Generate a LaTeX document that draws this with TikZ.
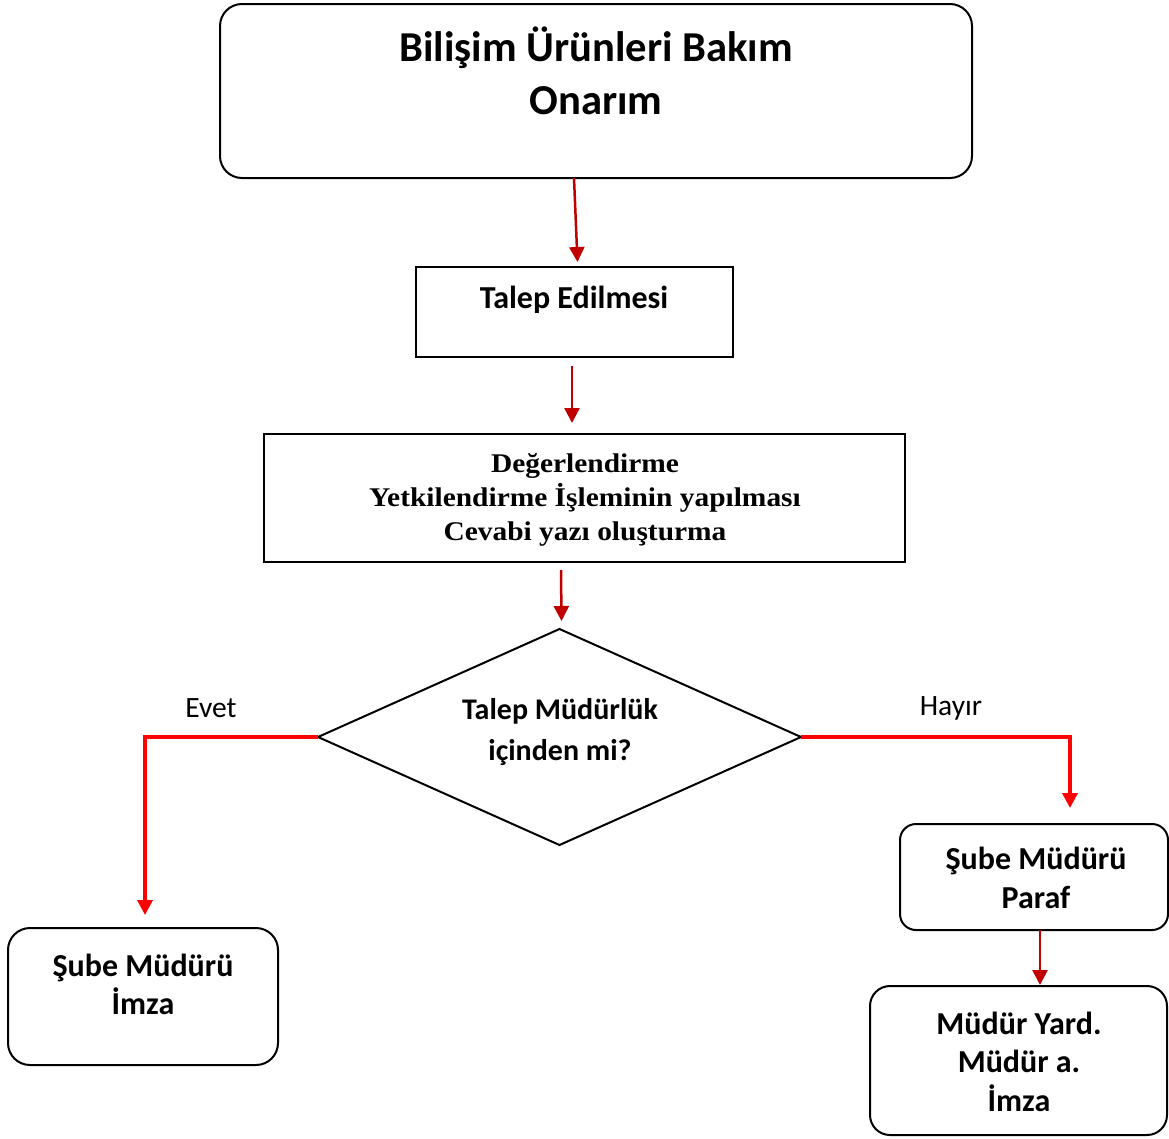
\documentclass[tikz,border=0pt]{standalone}
\usepackage{fontspec}
\setmainfont{Carlito}
\newfontfamily\tnr[FakeStretch=1.09]{Liberation Serif}
\usetikzlibrary{arrows.meta,shapes.geometric,calc}
\definecolor{darkred}{HTML}{C00000}
\definecolor{brightred}{HTML}{FF0000}
\begin{document}
\begin{tikzpicture}[x=1pt,y=-1pt,
  boxstyle/.style={draw=black,line width=2pt,inner sep=0pt,outer sep=0pt},
  roundbox/.style={boxstyle,rounded corners=#1},
  darr/.style={draw=darkred,line width=2.5pt,-{Triangle[width=15pt,length=15pt]}},
  rarr/.style={draw=brightred,line width=3.5pt,-{Triangle[width=15pt,length=15pt]}},
  txt/.style={align=center,inner sep=0pt,anchor=base}
]
\useasboundingbox (0,0) rectangle (1169,1138);
% shapes
\node[roundbox=22pt,minimum width=752pt,minimum height=174pt] (title) at (596,91) {};
\node[boxstyle,minimum width=317pt,minimum height=90pt] (talep) at (574.5,312) {};
\node[boxstyle,minimum width=641pt,minimum height=128pt] (deger) at (584.5,498) {};
\node[draw=black,line width=2pt,shape=diamond,inner sep=0pt,outer sep=0pt,minimum width=483pt,minimum height=216pt] (dec) at (559.5,737) {};
\node[roundbox=22pt,minimum width=270pt,minimum height=137pt] (imza) at (143,996.5) {};
\node[roundbox=16pt,minimum width=268pt,minimum height=106pt] (paraf) at (1034,877) {};
\node[roundbox=20pt,minimum width=297pt,minimum height=149pt] (yard) at (1018.5,1060.5) {};
% texts (anchored at the baseline of the last line)
\node[txt,font=\fontsize{42.6}{53}\selectfont\bfseries] (titletxt) at (596,114) {Bilişim Ürünleri Bakım\\Onarım};
\node[txt,font=\fontsize{32}{36}\selectfont\bfseries] (taleptxt) at (574,308) {Talep Edilmesi};
\node[txt,font=\fontsize{27}{34}\selectfont\tnr\bfseries] (degertxt) at (585,540) {Değerlendirme\\Yetkilendirme İşleminin yapılması\\Cevabi yazı oluşturma};
\node[txt,font=\fontsize{30}{41}\selectfont\bfseries] (dectxt) at (560,760) {Talep Müdürlük\\içinden mi?};
\node[txt,font=\fontsize{32}{38}\selectfont\bfseries] (imzatxt) at (143,1014) {Şube Müdürü\\İmza};
\node[txt,font=\fontsize{32}{39}\selectfont\bfseries] (paraftxt) at (1036,908) {Şube Müdürü\\Paraf};
\node[txt,font=\fontsize{32}{38.5}\selectfont\bfseries] (yardtxt) at (1019,1111) {Müdür Yard.\\Müdür a.\\İmza};
\node[font=\fontsize{29.5}{32}\selectfont,inner sep=0pt] (evet) at (211,708) {Evet};
\node[font=\fontsize{29.5}{32}\selectfont,inner sep=0pt] (hayir) at (951,708) {Hayır};
% connectors
\draw[darr] ([xshift=-22pt]title.south) -- ([xshift=3pt,yshift=5pt]talep.north);
\draw[darr] ([xshift=-2.5pt,yshift=-9pt]talep.south) -- ([xshift=-12.5pt,yshift=11pt]deger.north);
\draw[darr] ([xshift=-23.5pt,yshift=-8pt]deger.south) -- ([xshift=2pt,yshift=8pt]dec.north);
\draw[rarr] (dec.west) -| ([xshift=2pt,yshift=13pt]imza.north);
\draw[rarr] (dec.east) -| ([xshift=36pt,yshift=16pt]paraf.north);
\draw[darr] ([xshift=6pt]paraf.south) -- ([xshift=21.5pt,yshift=1pt]yard.north);
\end{tikzpicture}
\end{document}
